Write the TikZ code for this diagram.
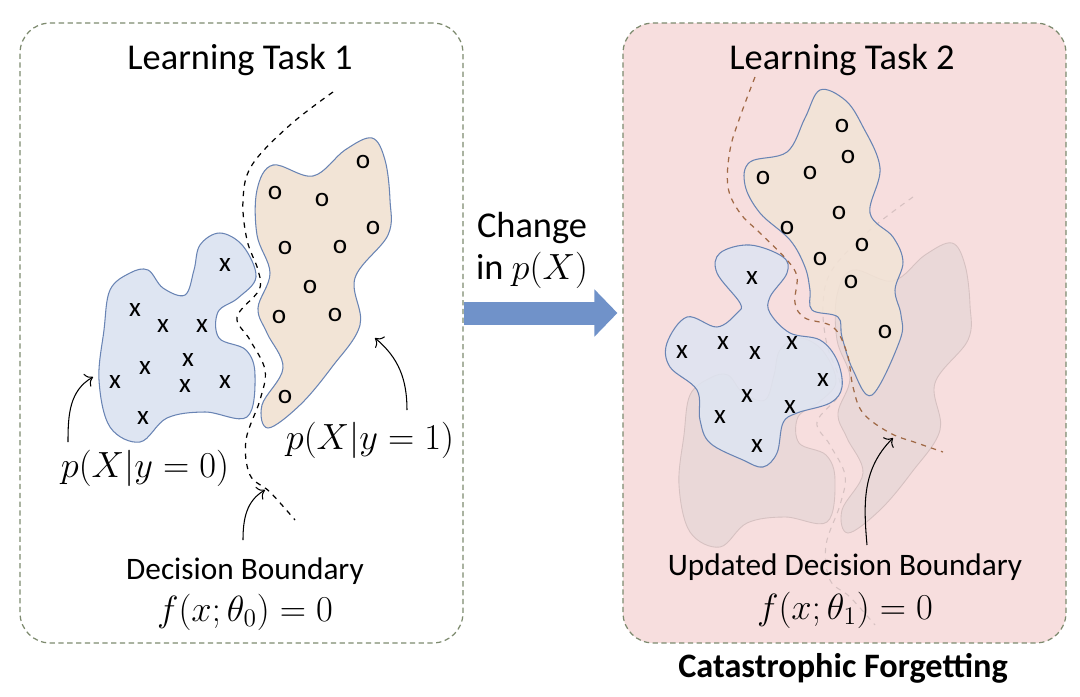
\documentclass[tikz,border=0pt]{standalone}
\usepackage[no-math]{fontspec}
\setmainfont{Carlito}
\usetikzlibrary{arrows.meta,positioning}
\definecolor{frameline}{RGB}{125,138,110}
\definecolor{forgetbg}{RGB}{247,222,222}
\definecolor{shiftblue}{RGB}{112,146,201}
\definecolor{negfill}{RGB}{222,229,242}
\definecolor{posfill}{RGB}{242,228,214}
\definecolor{blobline}{RGB}{105,132,180}
\definecolor{ghostfill}{RGB}{234,216,216}
\definecolor{ghostline}{RGB}{214,193,193}
\definecolor{newbound}{RGB}{160,105,70}

% class regions of task 1 (reused, faded, in task 2)
\newcommand{\negregion}{plot[smooth cycle,tension=0.6] coordinates {(110,290) (130,273) (148,270) (163,288) (185,295) (194,270) (200,245) (220,233) (243,246) (256,277) (238,298) (218,312) (219,338) (246,350) (255,375) (247,417) (205,412) (167,418) (140,442) (110,427) (99,380) (104,330)}}
\newcommand{\posregion}{plot[smooth cycle,tension=0.6] coordinates {(273,165) (313,176) (345,150) (372,138) (385,160) (390,200) (388,235) (355,278) (360,325) (332,367) (300,405) (268,428) (262,405) (283,368) (267,333) (258,308) (270,273) (257,235) (257,190)}}
\newcommand{\oldboundary}{plot[smooth,tension=0.6] coordinates {(333,92) (290,125) (252,165) (243,200) (247,240) (258,270) (259,290) (237,317) (250,340) (265,370) (260,400) (246,440) (250,475) (270,492) (295,520)}}

\begin{document}
\begin{tikzpicture}[x=0.02cm, y=-0.02cm,
    panel/.style={draw=frameline, dash pattern=on 3pt off 2pt, line width=0.7pt,
                  rounded corners=0.6cm, minimum width=8.86cm, minimum height=12.4cm, inner sep=0pt},
    title/.style={font=\fontsize{20.7}{24}\selectfont},
    note/.style={font=\fontsize{17.8}{20}\selectfont},
    eqn/.style={font=\fontsize{21.5}{25}\selectfont},
    negblob/.style={draw=blobline, fill=negfill, line width=0.6pt},
    posblob/.style={draw=blobline, fill=posfill, line width=0.6pt},
    ghost/.style={draw=ghostline, fill=ghostfill, line width=0.5pt},
    boundary/.style={dashed, line width=0.7pt},
    callout/.style={-{To[length=4pt]}, line width=0.6pt},
    sample/.style={font=\fontsize{15.5}{15}\selectfont, inner sep=0pt}]

    \useasboundingbox (0,0) rectangle (1080,697);

    % panels
    \node[panel] (task1) at (241.5,333) {};
    \node[panel, fill=forgetbg] (task2) at (844.5,333) {};
    \node[title] (lt1) at (240,60) {Learning Task 1};
    \node[title] (lt2) at (842,60) {Learning Task 2};

    % shift of the input distribution
    \coordinate (shifty) at (540,313);
    \draw[draw=shiftblue, line width=0.46cm, -{Triangle[width=0.92cm,length=0.46cm]}, shorten >=0.1cm]
        (task1.east |- shifty) -- (task2.west |- shifty);
    \node[title, align=center] (chg) at (532,250) {Change\\in $p(X)$};

    % task 1
    \draw[negblob] \negregion;
    \draw[posblob] \posregion;
    \draw[boundary] \oldboundary;
    \foreach \x/\y [count=\i] in {225/265, 135/310, 163/326, 202/326, 145/368, 188/360,
                                185/386, 115/382, 225/382, 143/418}
        \node[sample] (neg\i) at (\x,\y) {x};
    \foreach \x/\y [count=\i] in {363/162, 275/193, 322/200, 373/228, 285/248, 340/247,
                                310/287, 279/317, 335/315, 285/397}
        \node[sample] (pos\i) at (\x,\y) {o};

    \node[eqn] (py0) at (145,468) {$p(X|y=0)$};
    \node[eqn] (py1) at (370,440) {$p(X|y=1)$};
    \node[note] (db1) at (245,571) {Decision Boundary};
    \node[eqn] (f0) at (245,612) {$f(x;\theta_0)=0$};
    \coordinate (py0tail) at (68,442);
    \coordinate (py0tip) at (93,377);
    \coordinate (py1tail) at (407,410);
    \coordinate (py1tip) at (375,338);
    \coordinate (db1tail) at (243,540);
    \coordinate (db1tip) at (265,490);
    \draw[callout] (py0tail) to[out=90, in=210] (py0tip);
    \draw[callout] (py1tail) to[out=90, in=-40] (py1tip);
    \draw[callout] (db1tail) to[out=90, in=210] (db1tip);

    % task 2: faded task 1 picture
    \begin{scope}[shift={(580,105)}]
        \draw[ghost] \negregion;
        \draw[ghost] \posregion;
        \draw[draw=ghostline, dashed, line width=0.6pt] \oldboundary;
    \end{scope}

    % task 2: shifted regions
    \draw[posblob, fill opacity=0.85] plot[smooth cycle,tension=0.6] coordinates {(820,90) (845,100) (862,125) (880,168) (870,213) (893,237) (903,262) (895,290) (901,315) (900,340) (872,395) (853,370) (842,337) (838,317) (812,310) (810,290) (805,267) (790,240) (760,213) (745,185) (750,162) (787,152) (805,118)};
    \draw[negblob, fill opacity=0.85] plot[smooth cycle,tension=0.6] coordinates {(720,253) (750,245) (783,257) (787,273) (770,297) (770,313) (790,333) (820,340) (837,360) (842,387) (830,403) (797,413) (783,423) (777,453) (763,467) (743,460) (710,443) (700,420) (697,390) (670,367) (667,343) (687,317) (717,327) (737,313) (740,303) (717,273)};
    \draw[boundary, newbound] plot[smooth,tension=0.6] coordinates {(755,77) (740,117) (730,150) (728,187) (740,213) (760,233) (787,260) (797,277) (795,303) (805,318) (833,327) (847,353) (853,387) (863,413) (890,433) (917,443) (943,452)};
    \foreach \x/\y [count=\i] in {752/278, 682/352, 723/343, 755/353, 792/343, 823/380,
                                747/396, 790/407, 720/417, 757/446}
        \node[sample] (negb\i) at (\x,\y) {x};
    \foreach \x/\y [count=\i] in {842/126, 848/157, 763/178, 810/173, 839/213, 787/228,
                                862/245, 820/259, 851/282, 885/332}
        \node[sample] (posb\i) at (\x,\y) {o};

    \node[note] (db2) at (845,567) {Updated Decision Boundary};
    \node[eqn] (f1) at (845,610) {$f(x;\theta_1)=0$};
    \coordinate (db2tail) at (867,545);
    \coordinate (db2tip) at (893,438);
    \draw[callout] (db2tail) to[out=95, in=225] (db2tip);

    \node[font=\fontsize{19.5}{22}\selectfont\bfseries] (cf) at (843,668) {Catastrophic Forgetting};
\end{tikzpicture}
\end{document}
